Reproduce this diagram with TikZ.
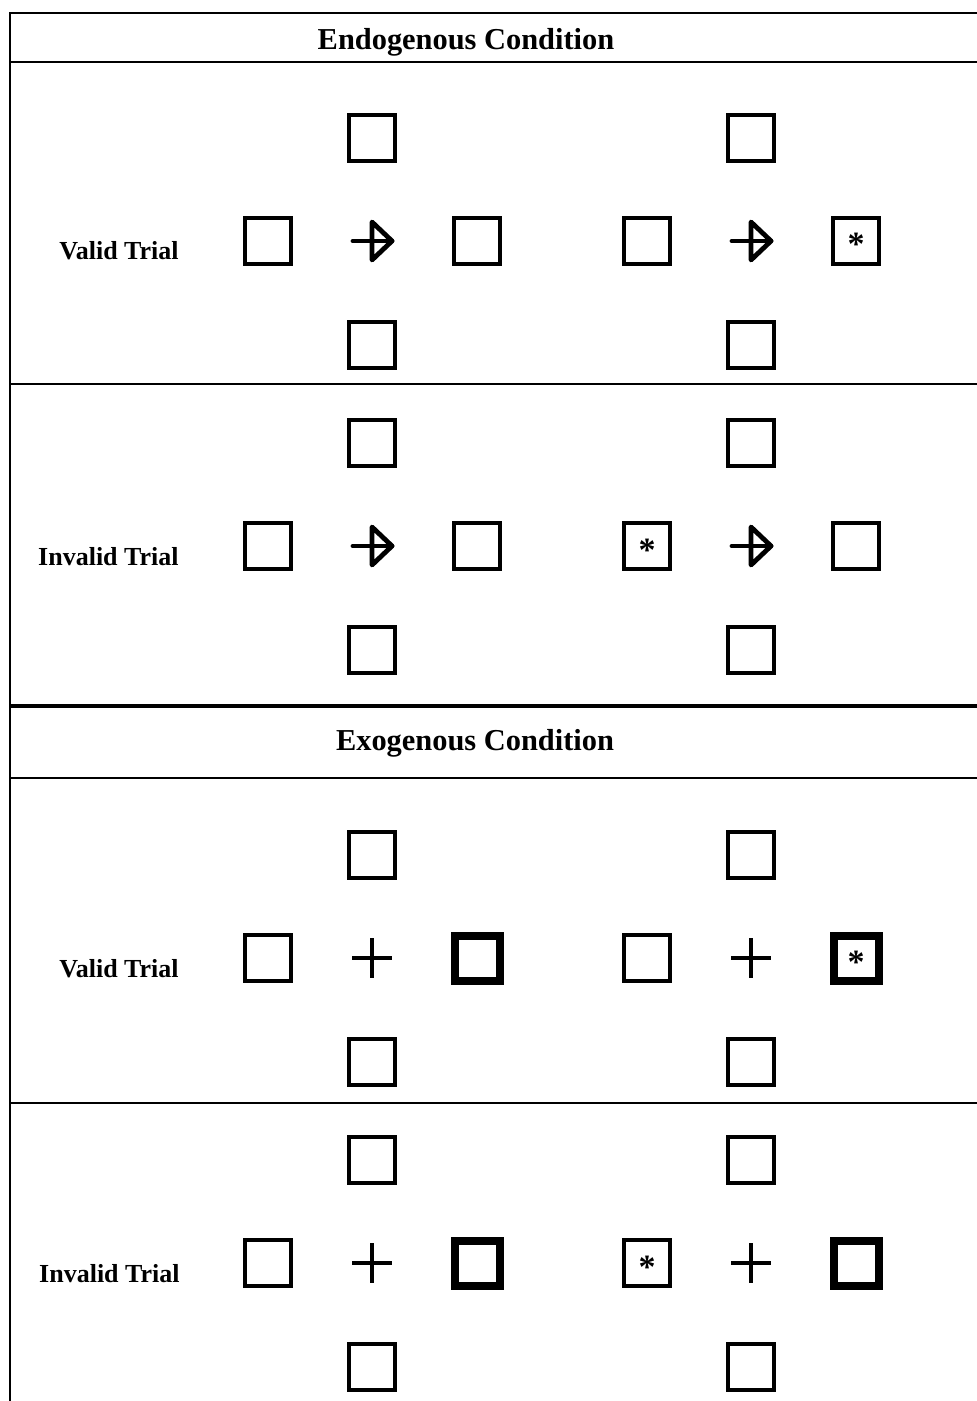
\documentclass[tikz,border=0pt]{standalone}
\usepackage{fontspec}
\setmainfont{Liberation Serif}
\usetikzlibrary{positioning}
\tikzset{
  cue/.style={draw, line width=2pt, minimum size=23pt, inner sep=0pt},
  hot/.style={cue, line width=4pt, minimum size=22.5pt},
  starmark/.style={anchor=base, inner sep=0pt, font=\bfseries\fontsize{17}{17}\selectfont},
  rule/.style={line width=0.8pt},
  heavyrule/.style={line width=1.6pt},
  hdr/.style={anchor=base, inner sep=0pt, font=\bfseries\fontsize{15.2}{17}\selectfont},
  lab/.style={anchor=base east, inner sep=0pt, font=\bfseries\fontsize{13}{15}\selectfont},
  fixarrow/.style={line width=2.4pt, line join=round, line cap=round},
  fixcross/.style={line width=1.7pt},
}

\begin{document}
\begin{tikzpicture}[x=0.5pt, y=-0.5pt]
\useasboundingbox (0,0) rectangle (977,1401);

% ---------- frame ----------
\draw[rule] (10,1401) -- (10,13) -- (977,13);
\draw[rule] (10,62) -- (977,62);
\draw[rule] (10,384) -- (977,384);
\draw[heavyrule] (10,706) -- (977,706);
\draw[rule] (10,778) -- (977,778);
\draw[rule] (10,1103) -- (977,1103);

% ---------- headers and row labels ----------
\node[hdr] (endo-hd) at (466,50) {Endogenous Condition};
\node[hdr] (exo-hd) at (475,750) {Exogenous Condition};

\node[lab] (ev-lab) at (179,260) {Valid Trial};
\node[lab] (ei-lab) at (179,565) {Invalid Trial};
\node[lab] (xv-lab) at (179,977) {Valid Trial};
\node[lab] (xi-lab) at (180,1282) {Invalid Trial};

% ---------- cue displays ----------
\foreach \nm/\xc/\yc/\rs in {eva/372/241/cue, evb/751/241/cue,
                              eia/372/546/cue, eib/751/546/cue,
                              xva/372/958/hot, xvb/751/958/hot,
                              xia/372/1263/hot, xib/751/1263/hot}{
  \node[cue] (\nm-t) at (\xc,\yc-103) {};
  \node[cue] (\nm-b) at (\xc,\yc+104) {};
  \node[cue] (\nm-l) at (\xc-104,\yc) {};
  \node[\rs] (\nm-r) at (\xc+105,\yc) {};
  \coordinate (\nm-f) at (\xc,\yc);
}

% endogenous: arrow cue
\foreach \nm in {eva, evb, eia, eib}{
  \draw[fixarrow] (\nm-f) ++(-19,0) -- ++(39,0);
  \draw[fixarrow] (\nm-f) ++(0,-19) -- ++(0,38) -- ++(20,-19) -- cycle;
}

% exogenous: fixation cross
\foreach \nm in {xva, xvb, xia, xib}{
  \draw[fixcross] (\nm-f) ++(-20,0) -- ++(40,0);
  \draw[fixcross] (\nm-f) ++(0,-20) -- ++(0,40);
}

% ---------- targets ----------
\foreach \bx in {evb-r, eib-l, xvb-r, xib-l}{
  \node[starmark] (\bx-s) at ([yshift=-7.5pt]\bx.center) {*};
}

\end{tikzpicture}
\end{document}
